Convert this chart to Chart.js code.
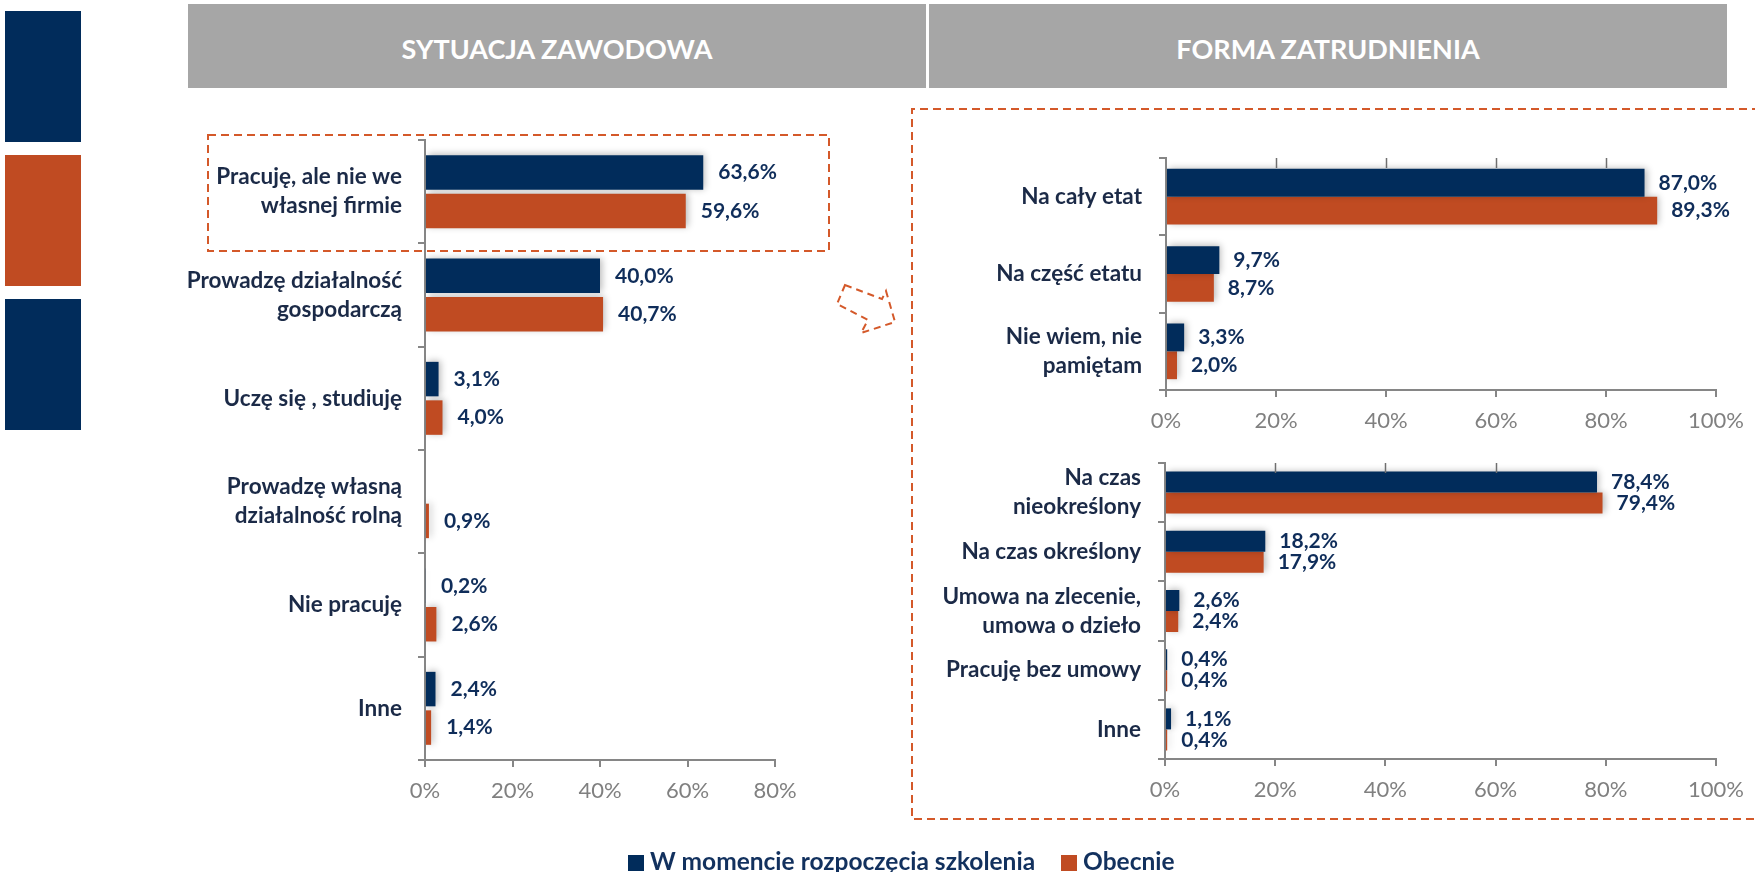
<!DOCTYPE html>
<html>
<head>
<meta charset="utf-8">
<title>Sytuacja zawodowa / Forma zatrudnienia</title>
<script src="https://cdn.jsdelivr.net/npm/chart.js@4.4.1/dist/chart.umd.min.js"></script>
<style>
  body { margin: 0; width: 1755px; height: 872px; overflow: hidden; background: #fff; position: relative; font-family: Lato, sans-serif; }
  .sq { position: absolute; left: 5px; width: 76px; height: 131px; }
  .head { position: absolute; top: 4px; height: 84px; background: #a6a6a6; color: #fff; font-weight: bold; font-size: 27px;
          display: flex; align-items: center; justify-content: center; padding-top: 4px; box-sizing: border-box; }
  canvas { position: absolute; }
  .legend { position: absolute; left: 628px; top: 849px; font-size: 24.5px; line-height: 24px; font-weight: bold; color: #12315e; white-space: nowrap; }
  .legend i { display: inline-block; width: 16px; height: 16px; margin-right: 6px; vertical-align: -1px; }
  svg { position: absolute; left: 0; top: 0; pointer-events: none; }
</style>
</head>
<body>

<div class="sq" style="top:11px;background:#012c5b"></div>
<div class="sq" style="top:155px;background:#c04b22"></div>
<div class="sq" style="top:299px;background:#012c5b"></div>

<div class="head" style="left:188px;width:738px">SYTUACJA ZAWODOWA</div>
<div class="head" style="left:929px;width:798px">FORMA ZATRUDNIENIA</div>

<canvas id="sytuacja" width="680" height="700" style="left:150px;top:120px"></canvas>
<canvas id="etat" width="875" height="300" style="left:880px;top:140px"></canvas>
<canvas id="umowa" width="875" height="380" style="left:880px;top:445px"></canvas>

<svg width="1755" height="872">
  <g fill="none" stroke="#d4592a" stroke-width="2" stroke-dasharray="8 5">
    <rect x="208" y="135" width="621" height="116"></rect>
    <path d="M1760 109 L912 109 L912 819 L1760 819"></path>
    <path d="M845 285 L882 299 L886 291 L895 322 L861 333 L868 320 L837 304 Z" stroke-dasharray="7 5"></path>
  </g>
</svg>

<div class="legend"><i style="background:#012c5b"></i>W momencie rozpoczęcia szkolenia<i style="background:#c04b22;margin-left:26px"></i>Obecnie</div>

<script>
// colours
var navy = '#012c5b';
var orange = '#c04b22';

// SYTUACJA ZAWODOWA
var situationLabels = [['Pracuję, ale nie we', 'własnej firmie'], ['Prowadzę działalność', 'gospodarczą'], 'Uczę się , studiuję',
                       ['Prowadzę własną', 'działalność rolną'], 'Nie pracuję', 'Inne'];
var situationStart = [63.6, 40.0, 3.1, null, 0.2, 2.4];
var situationNow = [59.6, 40.7, 4.0, 0.9, 2.6, 1.4];

// FORMA ZATRUDNIENIA - wymiar
var timeLabels = ['Na cały etat', 'Na część etatu', ['Nie wiem, nie', 'pamiętam']];
var timeStart = [87.0, 9.7, 3.3];
var timeNow = [89.3, 8.7, 2.0];

// FORMA ZATRUDNIENIA - umowa
var contractLabels = [['Na czas', 'nieokreślony'], 'Na czas określony', ['Umowa na zlecenie,', 'umowa o dzieło'], 'Pracuję bez umowy', 'Inne'];
var contractStart = [78.4, 18.2, 2.6, 0.4, 1.1];
var contractNow = [79.4, 17.9, 2.4, 0.4, 0.4];

// axis ticks every 20%
var tickStep = 20;

Chart.defaults.font.family = 'Lato, sans-serif';

// soft shadow under the bars
var barShadow = {
    id: 'barShadow',
    beforeDatasetsDraw: function (chart) {
        var c = chart.ctx;
        c.save();
        c.shadowColor = 'rgba(0,0,0,0.28)';
        c.shadowBlur = 7;
        c.shadowOffsetX = 2;
        c.shadowOffsetY = -1;
    },
    afterDatasetsDraw: function (chart) {
        chart.ctx.restore();
    }
};

// "63,6%" next to each bar
var valueLabels = {
    id: 'valueLabels',
    afterDraw: function (chart, args, opts) {
        var c = chart.ctx;
        c.save();
        c.font = 'bold 21px Lato, sans-serif';
        c.fillStyle = '#0f2d5a';
        c.textBaseline = 'middle';
        chart.data.datasets.forEach(function (ds, i) {
            chart.getDatasetMeta(i).data.forEach(function (bar, j) {
                var v = ds.data[j];
                if (v === null) return;
                c.fillText(v.toFixed(1).replace('.', ',') + '%', bar.x + opts.gap, bar.y);
            });
        });
        c.restore();
    }
};

// little marks on the top edge (left over from the original)
var topMarks = {
    id: 'topMarks',
    afterDraw: function (chart, args, opts) {
        if (!opts.values) return;
        var c = chart.ctx, x = chart.scales.x, top = chart.chartArea.top;
        c.save();
        c.strokeStyle = '#6f6f6f';
        c.lineWidth = 1.5;
        opts.values.forEach(function (v) {
            var px = Math.round(x.getPixelForValue(v)) + 0.5;
            c.beginPath();
            c.moveTo(px, top);
            c.lineTo(px, top + opts.len);
            c.stroke();
        });
        c.restore();
    }
};

function makeChart(id, labels, start, now, cfg) {
    var ctx = document.getElementById(id).getContext('2d');
    return new Chart(ctx, {
        type: 'bar',
        data: {
            labels: labels,
            datasets: [{
                label: 'W momencie rozpoczęcia szkolenia',
                data: start,
                backgroundColor: navy,
                categoryPercentage: cfg.cat,
                barPercentage: cfg.bar
            }, {
                label: 'Obecnie',
                data: now,
                backgroundColor: orange,
                categoryPercentage: cfg.cat,
                barPercentage: cfg.bar
            }]
        },
        options: {
            indexAxis: 'y',
            responsive: false,
            animation: false,
            layout: { padding: cfg.pad },
            plugins: {
                legend: { display: false },
                tooltip: { enabled: false },
                valueLabels: { gap: cfg.gap },
                topMarks: { values: cfg.marks, len: 10 }
            },
            scales: {
                x: {
                    min: 0,
                    max: cfg.max,
                    ticks: {
                        stepSize: tickStep,
                        color: '#808080',
                        font: { size: 22 },
                        padding: 11,
                        maxRotation: 0,
                        callback: function (v) { return v + '%'; }
                    },
                    grid: { drawOnChartArea: false, color: '#868686', tickLength: 7, lineWidth: 2 },
                    border: { color: '#868686', width: 2 },
                    afterFit: function (s) { s.height = 50; }
                },
                y: {
                    ticks: {
                        color: '#1b2a47',
                        font: { size: 22.5, weight: 'bold', lineHeight: 1.29 },
                        padding: cfg.lpad,
                        autoSkip: false
                    },
                    grid: { drawOnChartArea: false, color: '#868686', tickLength: 7, lineWidth: 2 },
                    border: { color: '#868686', width: 2 },
                    afterFit: function (s) {
                        s.width = cfg.yw;
                        // labels never stick out above/below, keep the plot where it is
                        s.paddingTop = 0;
                        s.paddingBottom = 0;
                    }
                }
            }
        },
        plugins: [barShadow, valueLabels, topMarks]
    });
}

makeChart('sytuacja', situationLabels, situationStart, situationNow, {
    max: 80, cat: 0.745, bar: 0.896, gap: 15, lpad: 16, yw: 275,
    pad: { left: 0, right: 55, top: 20, bottom: 10 }
});

makeChart('etat', timeLabels, timeStart, timeNow, {
    max: 100, cat: 0.72, bar: 1.0, gap: 14, lpad: 17, yw: 286,
    pad: { left: 0, right: 28, top: 18, bottom: 0 },
    marks: [20, 40, 60, 80]
});

makeChart('umowa', contractLabels, contractStart, contractNow, {
    max: 100, cat: 0.71, bar: 1.0, gap: 14, lpad: 17, yw: 285,
    pad: { left: 0, right: 31, top: 18, bottom: 16 },
    marks: [20, 40, 60]
});
</script>
</body>
</html>
